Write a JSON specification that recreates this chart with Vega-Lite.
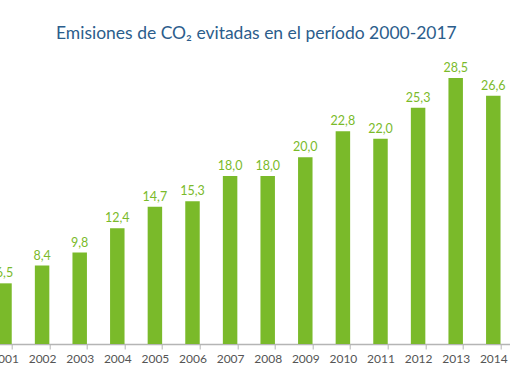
{
  "$schema": "https://vega.github.io/schema/vega-lite/v6.json",
  "autosize": {"type": "none"},
  "width": 526.4,
  "height": 280,
  "padding": {"left": -14.3, "top": 64, "right": 0, "bottom": 38},
  "background": "white",
  "title": {
    "text": "Emisiones de CO₂ evitadas en el período 2000-2017",
    "font": "Lato",
    "fontSize": 17.5,
    "fontWeight": "normal",
    "color": "#2b5d8c",
    "anchor": "start",
    "dx": 70.3,
    "offset": 20
  },
  "config": {"view": {"stroke": null}},
  "data": {
    "values": [
      {"year": "2001", "value": 6.5, "label": "6,5"},
      {"year": "2002", "value": 8.4, "label": "8,4"},
      {"year": "2003", "value": 9.8, "label": "9,8"},
      {"year": "2004", "value": 12.4, "label": "12,4"},
      {"year": "2005", "value": 14.7, "label": "14,7"},
      {"year": "2006", "value": 15.3, "label": "15,3"},
      {"year": "2007", "value": 18.0, "label": "18,0"},
      {"year": "2008", "value": 18.0, "label": "18,0"},
      {"year": "2009", "value": 20.0, "label": "20,0"},
      {"year": "2010", "value": 22.8, "label": "22,8"},
      {"year": "2011", "value": 22.0, "label": "22,0"},
      {"year": "2012", "value": 25.3, "label": "25,3"},
      {"year": "2013", "value": 28.5, "label": "28,5"},
      {"year": "2014", "value": 26.6, "label": "26,6"}
    ]
  },
  "encoding": {
    "x": {
      "field": "year",
      "type": "nominal",
      "sort": null,
      "scale": {"paddingInner": 0.615, "paddingOuter": 0.3075},
      "axis": {
        "title": null,
        "labelAngle": 0,
        "labelFont": "Lato",
        "labelFontSize": 12,
        "labelColor": "#555555",
        "labelPadding": 5,
        "tickBand": "extent",
        "tickColor": "#b5b5b5",
        "tickSize": 5,
        "domainColor": "#b5b5b5",
        "domainWidth": 1.5
      }
    },
    "y": {
      "field": "value",
      "type": "quantitative",
      "scale": {"domain": [0, 30]},
      "axis": null
    }
  },
  "layer": [
    {"mark": {"type": "bar", "color": "#7aba2a"}},
    {
      "mark": {
        "type": "text",
        "baseline": "bottom",
        "dy": -3,
        "font": "Lato",
        "fontSize": 12.5,
        "color": "#7aba2a"
      },
      "encoding": {"text": {"field": "label"}}
    }
  ]
}
